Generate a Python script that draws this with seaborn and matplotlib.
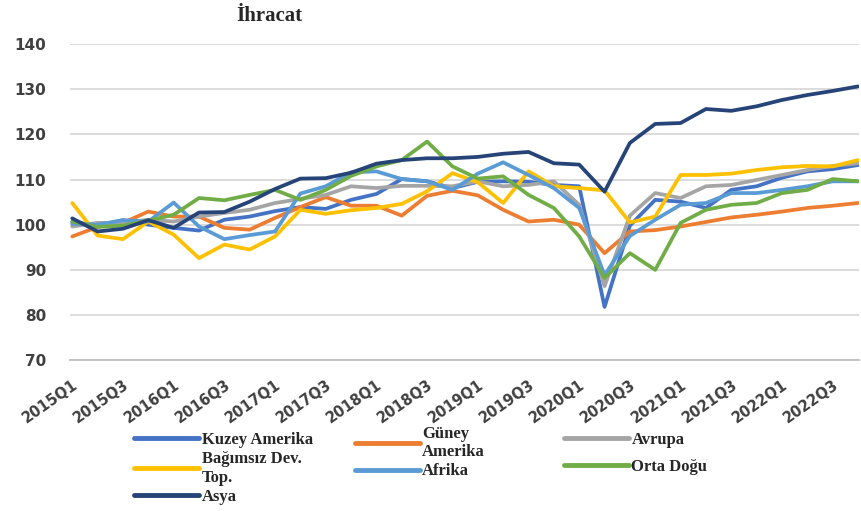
import pandas as pd
import matplotlib.pyplot as plt
import seaborn as sns
from matplotlib.lines import Line2D

# Ceyreklik donemler
quarters = ['2015Q1', '2015Q2', '2015Q3', '2015Q4', '2016Q1', '2016Q2', '2016Q3', '2016Q4',
            '2017Q1', '2017Q2', '2017Q3', '2017Q4', '2018Q1', '2018Q2', '2018Q3', '2018Q4',
            '2019Q1', '2019Q2', '2019Q3', '2019Q4', '2020Q1', '2020Q2', '2020Q3', '2020Q4',
            '2021Q1', '2021Q2', '2021Q3', '2021Q4', '2022Q1', '2022Q2', '2022Q3', '2022Q4']

# Ihracat endeksleri (okunan degerler)
kuzey_amerika = [100.6, 99.8, 101.0, 100.0, 99.3, 98.7, 101.1, 101.8, 103.0, 103.9, 103.5, 105.5,
                 106.8, 110.1, 109.6, 108.1, 109.5, 109.6, 109.5, 108.8, 108.5, 81.8, 99.8, 105.5,
                 105.1, 103.7, 107.7, 108.5, 110.4, 111.8, 112.3, 113.2]
guney_amerika = [97.4, 99.5, 100.4, 102.9, 101.8, 101.8, 99.3, 98.9, 101.5, 103.9, 106.1, 104.2,
                 104.2, 102.0, 106.4, 107.5, 106.5, 103.3, 100.7, 101.1, 100.0, 93.7, 98.5, 98.8,
                 99.6, 100.6, 101.6, 102.2, 102.9, 103.7, 104.2, 104.8]
avrupa = [99.6, 100.4, 100.4, 101.1, 100.7, 101.8, 102.6, 103.3, 104.8, 105.7, 106.6, 108.5,
          108.1, 108.6, 108.6, 108.5, 109.6, 108.5, 108.8, 109.6, 104.4, 86.4, 102.0, 107.0,
          105.9, 108.5, 108.8, 109.9, 111.0, 112.1, 113.0, 113.6]
bagimsiz = [104.8, 97.6, 96.8, 100.7, 97.8, 92.6, 95.6, 94.5, 97.4, 103.3, 102.4, 103.2,
            103.7, 104.6, 107.4, 111.4, 109.4, 104.8, 111.8, 108.5, 108.1, 107.6, 100.5, 101.8,
            111.0, 111.0, 111.3, 112.1, 112.7, 113.0, 112.9, 114.3]
afrika = [100.2, 100.0, 101.0, 100.7, 104.9, 99.6, 96.8, 97.7, 98.5, 106.9, 108.5, 111.6,
          111.8, 110.1, 109.6, 107.7, 111.3, 113.8, 111.0, 108.1, 103.7, 88.8, 97.5, 101.1,
          104.4, 104.8, 107.0, 107.0, 107.7, 108.5, 109.6, 109.6]
orta_dogu = [100.7, 99.5, 99.8, 100.9, 102.2, 105.9, 105.4, 106.6, 107.7, 105.5, 107.7, 110.8,
             112.9, 114.3, 118.4, 112.9, 110.2, 110.7, 106.6, 103.7, 97.4, 88.2, 93.7, 90.0,
             100.4, 103.3, 104.4, 104.8, 107.0, 107.7, 110.1, 109.6]
asya = [101.4, 98.5, 99.1, 101.0, 99.3, 102.7, 102.8, 105.1, 107.9, 110.2, 110.3, 111.5,
        113.5, 114.3, 114.7, 114.7, 115.0, 115.7, 116.1, 113.6, 113.3, 107.3, 118.1, 122.3,
        122.5, 125.6, 125.2, 126.2, 127.6, 128.7, 129.6, 130.6]

regions = ['Kuzey Amerika', 'Güney\nAmerika', 'Avrupa', 'Bağımsız Dev.\nTop.',
           'Afrika', 'Orta Doğu', 'Asya']
colors = ['#4472C4', '#ED7D31', '#A5A5A5', '#FFC000', '#5B9BD5', '#70AD47', '#264478']
series = [kuzey_amerika, guney_amerika, avrupa, bagimsiz, afrika, orta_dogu, asya]

rows = []
for name, vals in zip(regions, series):
    for i, v in enumerate(vals):
        rows.append({'idx': i, 'donem': quarters[i], 'bolge': name, 'deger': v})
df = pd.DataFrame(rows)

sns.set_style('white')
plt.rcParams['font.family'] = ['DejaVu Sans']

fig = plt.figure(figsize=(8.61, 5.11), dpi=100)
ax = fig.add_axes([0.081, 0.295, 0.917, 0.619])

sns.lineplot(data=df, x='idx', y='deger', hue='bolge', hue_order=regions,
             palette=colors, linewidth=2.7, legend=False, ax=ax)

ax.set_ylim(70, 140)
ax.set_xlim(-0.1, 31.05)
ax.set_yticks(range(70, 141, 10))
ax.yaxis.grid(True, color='#D9D9D9', linewidth=1.3)
ax.set_axisbelow(True)
ax.set_xticks(range(len(quarters)))
ax.set_xticklabels([q if i % 2 == 0 else '' for i, q in enumerate(quarters)],
                   rotation=35, ha='right', rotation_mode='anchor')
ax.tick_params(axis='x', direction='out', length=4, width=1.2, color='#BFBFBF', pad=8,
               labelsize=10.5, labelcolor='#404040')
ax.tick_params(axis='y', length=0, pad=17, labelsize=11, labelcolor='#404040')
for lab in ax.get_xticklabels() + ax.get_yticklabels():
    lab.set_fontweight('bold')
for s in ['top', 'right', 'left']:
    ax.spines[s].set_visible(False)
ax.spines['bottom'].set_color('#BFBFBF')
ax.spines['bottom'].set_linewidth(1.3)
ax.set_xlabel('')
ax.set_ylabel('')

fig.text(0.274, 0.968, 'İhracat', fontfamily='Liberation Serif', fontweight='bold',
         fontsize=15, ha='left', va='center')

# Legend: uc sutun, her biri ayri konumda
leg_font = {'family': 'Liberation Serif', 'weight': 'bold', 'size': 12}
columns = [([0, 3, 6], 0.156, 0.155, 0.2),
           ([1, 4], 0.412, 0.167, 0.2),
           ([2, 5], 0.655, 0.155, 0.65)]
for idxs, xpos, ypos, spacing in columns:
    handles = [Line2D([], [], color=colors[k], linewidth=3.5) for k in idxs]
    labels = [regions[k] for k in idxs]
    fig.legend(handles, labels, loc='upper left', bbox_to_anchor=(xpos, ypos),
               frameon=False, prop=leg_font, handlelength=3.9, handletextpad=0.15,
               labelspacing=spacing, borderaxespad=0, borderpad=0)

fig.savefig('out.png', dpi=100)
